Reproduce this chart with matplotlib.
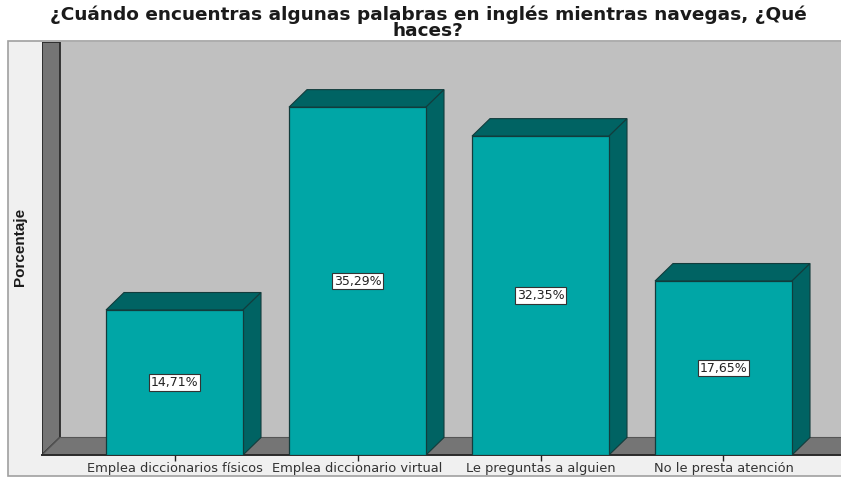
import os
import matplotlib
matplotlib.use('Agg')
from matplotlib import pyplot as plt
from matplotlib.font_manager import FontProperties
from matplotlib.patches import Polygon, Rectangle

categories = ['Emplea diccionarios físicos', 'Emplea diccionario virtual',
              'Le preguntas a alguien', 'No le presta atención']
values = [14.71, 35.29, 32.35, 17.65]
value_labels = ['14,71%', '35,29%', '32,35%', '17,65%']
title = '¿Cuándo encuentras algunas palabras en inglés mientras navegas, ¿Qué\nhaces?'

W, H = 841, 479
front = '#00a6a6'
side = '#006363'
edge = '#123c3c'

# DejaVu normal (no condensada), la mas ancha disponible
ttf = os.path.join(matplotlib.get_data_path(), 'fonts', 'ttf')
regular = os.path.join(ttf, 'DejaVuSans.ttf')
bold = os.path.join(ttf, 'DejaVuSans-Bold.ttf')

fig = plt.figure(figsize=(W / 100, H / 100), dpi=100, facecolor='white')

# marco exterior del grafico
fig.add_artist(Rectangle((8 / W, 1 - 476 / H), 840 / W, 435 / H, transform=fig.transFigure,
                         facecolor='#f0f0f0', edgecolor='#a0a0a0', lw=1.2, zorder=-1))

# ejes: izquierda x=42, derecha x=841, base y=455, arriba y=42 (pixeles)
ax = fig.add_axes([42 / W, 1 - 455 / H, 799 / W, 413 / H])
px_x = 183.0
px_y = 9.857
x0 = -(174.5 - 42) / px_x
ax.set_xlim(x0, x0 + 799 / px_x)
ax.set_ylim(0, 413 / px_y)
ax.set_facecolor('none')
for s in ax.spines.values():
    s.set_visible(False)

dx = 18 / px_x
dy = 17.5 / px_y
xmin, xmax = ax.get_xlim()
ymax = ax.get_ylim()[1]

# pared de fondo, pared lateral y suelo
ax.add_patch(Rectangle((xmin + dx, dy), xmax - xmin, ymax - dy, facecolor='#c0c0c0', edgecolor='none', zorder=1))
ax.add_patch(Polygon([(xmin, 0), (xmin + dx, dy), (xmin + dx, ymax), (xmin, ymax)],
                     facecolor='#757575', edgecolor='#2a2a2a', lw=1.3, zorder=2))
ax.add_patch(Polygon([(xmin, 0), (xmin + dx, dy), (xmax + 1, dy), (xmax + 1, 0)],
                     facecolor='#757575', edgecolor='#555555', lw=0.8, zorder=2))
ax.plot([xmin, xmax], [0, 0], color='#2a2a2a', lw=1.4, zorder=3, clip_on=False)

width = 137 / px_x
xs = list(range(len(values)))
bars = ax.bar(xs, values, width=width, color=front, edgecolor=edge, lw=0.9, zorder=5)

for x, v, lab in zip(xs, values, value_labels):
    l, r = x - width / 2, x + width / 2
    ax.add_patch(Polygon([(l, v), (l + dx, v + dy), (r + dx, v + dy), (r, v)],
                         facecolor=side, edgecolor=edge, lw=0.8, zorder=4))
    ax.add_patch(Polygon([(r, 0), (r + dx, dy), (r + dx, v + dy), (r, v)],
                         facecolor=side, edgecolor=edge, lw=0.8, zorder=4))
    ax.text(x, v / 2, lab, ha='center', va='center', font=FontProperties(fname=regular, size=9),
            color='#222222', zorder=6,
            bbox=dict(boxstyle='square,pad=0.15', facecolor='white', edgecolor='#333333', lw=0.8))

ax.set_xticks(xs)
ax.set_xticklabels(categories, font=FontProperties(fname=regular, size=9.4), color='#333333')
ax.tick_params(axis='x', length=4, width=1, color='#222222', pad=1)
ax.set_yticks([])

fig.text(20 / W, 1 - 247 / H, 'Porcentaje', rotation=90, ha='center', va='center',
         fontsize=11, fontweight='bold', family='Liberation Sans', color='#1a1a1a')
fig.text(428 / W, 1 - 23 / H, title, ha='center', va='center',
         font=FontProperties(fname=bold, size=13.3), color='#1a1a1a', linespacing=0.88)

fig.savefig('out.png', dpi=100)
